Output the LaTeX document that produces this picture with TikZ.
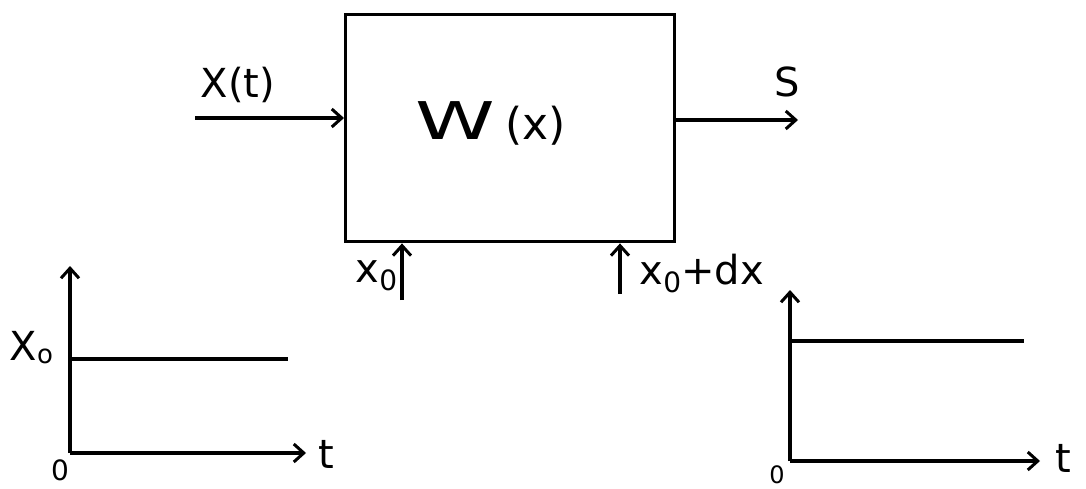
\documentclass[tikz,border=0pt]{standalone}
\usepackage{fontspec}
\setmainfont{DejaVu Sans}
\usetikzlibrary{arrows.meta}
\begin{document}
\begin{tikzpicture}[x=1pt,y=-1pt,line width=3.4pt,
  arr/.style={-{Straight Barb[length=10pt,width=18pt,line width=3pt]}},
  lbl/.style={inner sep=0pt,font=\fontsize{40}{44}\selectfont},
  sub/.style={inner sep=0pt,font=\fontsize{28}{30}\selectfont}]
\useasboundingbox (0,0) rectangle (1086,489);
% block
\node[draw,inner sep=0pt,minimum width=329pt,minimum height=227pt,anchor=north west] (box) at (344,13) {};
\node[inner sep=0pt,anchor=base] (W) at (491,140) {{\fontsize{52}{56}\selectfont\scalebox{1.55}[1]{W}}\hspace{10pt}{\fontsize{44}{48}\selectfont(x)}};
% input / output
\coordinate (in) at (195,118);
\draw[arr] (in) -- (in -| box.west);
\node[lbl,anchor=base] (Xt) at (238,98) {X(t)};
\coordinate (out) at (798,120);
\draw[arr] (out -| box.east) -- (out);
\node[lbl,anchor=base] (S) at (787,97) {S};
% parameter arrows
\coordinate (a0) at (402,300);
\draw[arr] (a0) -- (a0 |- box.south);
\node[lbl,anchor=base west] (x0) at (354,282) {x\raisebox{-8pt}{\fontsize{28}{30}\selectfont 0}};
\coordinate (a1) at (620,294);
\draw[arr] (a1) -- (a1 |- box.south);
\node[lbl,anchor=base west] (x0dx) at (638,284) {x\raisebox{-8pt}{\fontsize{28}{30}\selectfont 0}+dx};
% left graph
\coordinate (o1) at (70,453);
\coordinate (y1) at (70,266);
\coordinate (t1) at (306,453);
\coordinate (h1s) at (70,359);
\coordinate (h1e) at (288,359);
\draw[arr] (o1) -- (y1);
\draw[arr] (o1) -- (t1);
\draw (h1s) -- (h1e);
\node[lbl,anchor=base west] (X0) at (8,360) {X\raisebox{-3pt}{\fontsize{26}{28}\selectfont o}};
\node[sub,anchor=base] (z1) at (60,480) {0};
\node[lbl,anchor=base] (tt1) at (326,468) {t};
% right graph
\coordinate (o2) at (790,461);
\coordinate (y2) at (790,290);
\coordinate (t2) at (1040,461);
\coordinate (h2s) at (790,341);
\coordinate (h2e) at (1024,341);
\draw[arr] (o2) -- (y2);
\draw[arr] (o2) -- (t2);
\draw (h2s) -- (h2e);
\node[sub,anchor=base,font=\fontsize{24}{26}\selectfont] (z2) at (777,483) {0};
\node[lbl,anchor=base] (tt2) at (1063,472) {t};
\end{tikzpicture}
\end{document}
